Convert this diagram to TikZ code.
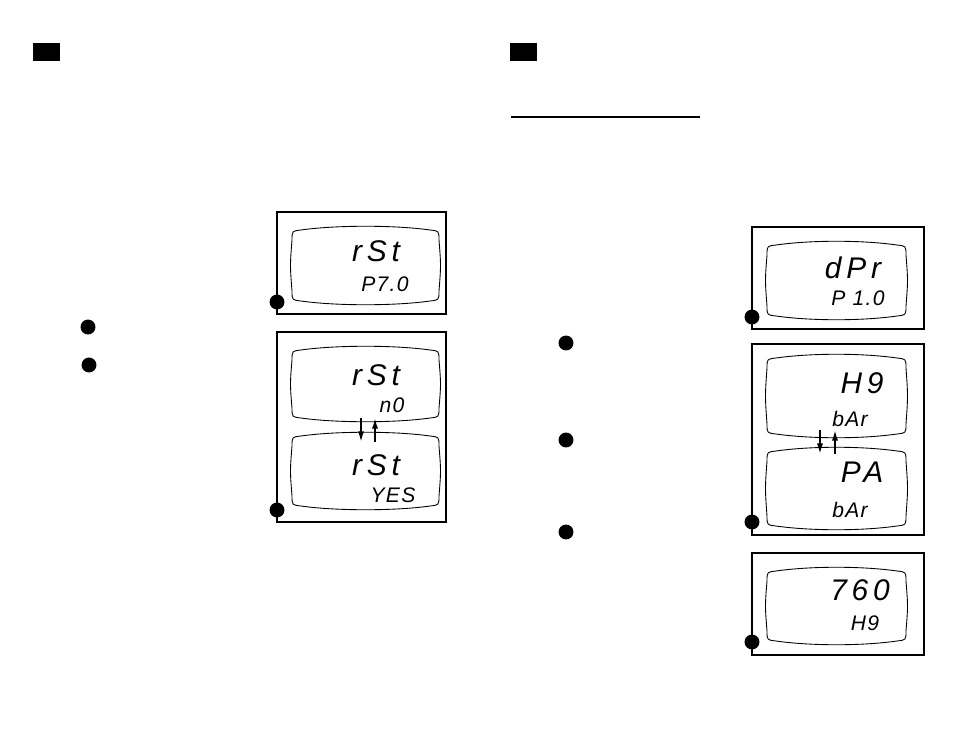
\documentclass[tikz,border=0pt]{standalone}
\usepackage{fontspec}
\newfontfamily\lcdfont[LetterSpace=16]{Liberation Sans}
\newfontfamily\lcdsmall[LetterSpace=6]{Liberation Sans}
\usetikzlibrary{positioning, arrows.meta}

% one LCD window: top-left x, top-left y, bottom-right x, bottom-right y
\newcommand{\lcdpanel}[4]{
  \draw[lcd] ({#1+10},{#2+4}) .. controls ({#1+45},{#2-1}) and ({#3-45},{#2-1}) .. ({#3-10},{#2+4})
    .. controls ({#3-1},{#2+5}) .. ({#3-1},{#2+14})
    .. controls ({#3+1},{(#2+#4)/2}) .. ({#3-1},{#4-14})
    .. controls ({#3-1},{#4-5}) .. ({#3-10},{#4-4})
    .. controls ({#3-45},{#4+1}) and ({#1+45},{#4+1}) .. ({#1+10},{#4-4})
    .. controls ({#1+1},{#4-5}) .. ({#1+1},{#4-14})
    .. controls ({#1-1},{(#2+#4)/2}) .. ({#1+1},{#2+14})
    .. controls ({#1+1},{#2+5}) .. cycle;
}

\tikzset{
  frame/.style={draw, line width=1.5pt},
  lcd/.style={draw, line width=0.5pt},
  bigtxt/.style={font=\lcdfont\itshape\fontsize{17}{17}\selectfont, inner sep=0pt},
  smalltxt/.style={font=\lcdsmall\itshape\fontsize{12}{12}\selectfont, inner sep=0pt},
  dot/.style={circle, fill=black, inner sep=0pt, minimum size=8.5pt},
  tab/.style={fill=black, draw=none},
  toggle/.style={-{Latex[length=6pt,width=3.5pt]}, line width=1pt},
}

\begin{document}
\begin{tikzpicture}[x=0.02cm, y=-0.02cm]
  \useasboundingbox (0,0) rectangle (954,737);

  % section tabs
  \fill[tab] (33,43) rectangle (60,61);
  \fill[tab] (510,43) rectangle (537,61);
  \draw[line width=0.6pt] (511,117) -- (700,117);

  % bullets beside the steps
  \node[dot] (b1) at (88,327) {};
  \node[dot] (b2) at (89,365) {};
  \node[dot] (b3) at (566,343) {};
  \node[dot] (b4) at (566,440) {};
  \node[dot] (b5) at (566,532) {};

  % left column displays
  \draw[frame] (277,212) rectangle (446,314);
  \lcdpanel{291}{226}{440}{305}
  \node[bigtxt] (rst1) at (376,251) {rSt};
  \node[smalltxt] (p70) at (385,284) {P7.0};
  \node[dot] (d1) at (277,302) {};

  \draw[frame] (277,332) rectangle (446,522);
  \lcdpanel{291}{346}{440}{422}
  \lcdpanel{291}{432}{440}{510}
  \node[bigtxt] (rst2) at (376,375) {rSt};
  \node[smalltxt] (no) at (392,405) {n0};
  \node[bigtxt] (rst3) at (376,465) {rSt};
  \node[smalltxt] (yes) at (393,495) {YES};
  \coordinate (a1t) at (361,418);
  \coordinate (a1b) at (361,442);
  \coordinate (a2t) at (375,418);
  \coordinate (a2b) at (375,442);
  \draw[toggle] (a1t) -- (a1b);
  \draw[toggle] (a2b) -- (a2t);
  \node[dot] (d2) at (277,510) {};

  % right column displays
  \draw[frame] (752,227) rectangle (924,329);
  \lcdpanel{766}{241}{907}{320}
  \node[bigtxt] (dpr) at (853,268) {dPr};
  \node[smalltxt] (p10) at (858,298) {P 1.0};
  \node[dot] (d3) at (752,317) {};

  \draw[frame] (752,344) rectangle (924,535);
  \lcdpanel{766}{354}{907}{438}
  \lcdpanel{766}{447}{907}{530}
  \node[bigtxt] (hg1) at (862,383) {H9};
  \node[smalltxt] (bar1) at (850,419) {bAr};
  \node[bigtxt] (pa) at (862,472) {PA};
  \node[smalltxt] (bar2) at (850,510) {bAr};
  \coordinate (a3t) at (820,430);
  \coordinate (a3b) at (820,454);
  \coordinate (a4t) at (835,430);
  \coordinate (a4b) at (835,454);
  \draw[toggle] (a3t) -- (a3b);
  \draw[toggle] (a4b) -- (a4t);
  \node[dot] (d4) at (752,522) {};

  \draw[frame] (752,553) rectangle (924,655);
  \lcdpanel{766}{567}{907}{645}
  \node[bigtxt] (val) at (860,590) {760};
  \node[smalltxt] (hg2) at (865,623) {H9};
  \node[dot] (d5) at (752,642) {};
\end{tikzpicture}
\end{document}
